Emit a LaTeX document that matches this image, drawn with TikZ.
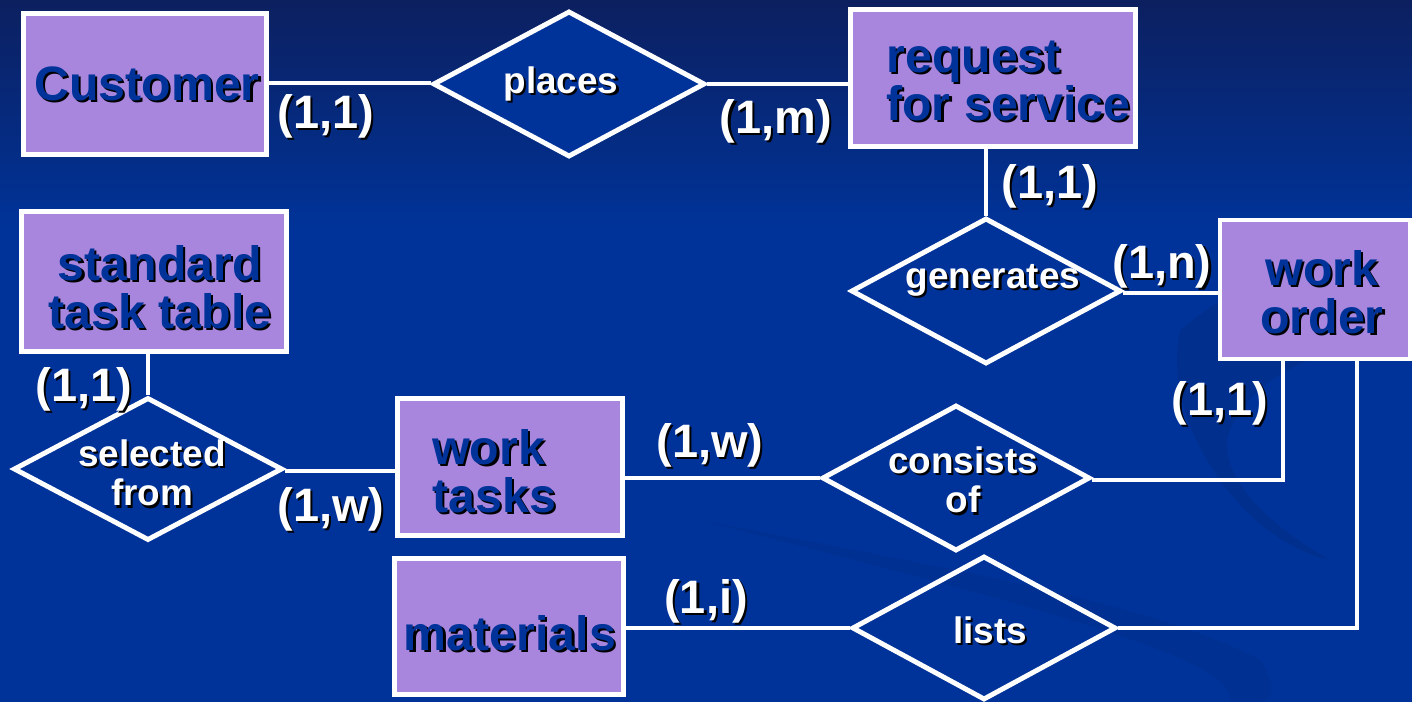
\documentclass[tikz,border=0pt]{standalone}
\usepackage{fontspec}
\setmainfont{Liberation Sans}
\usetikzlibrary{shapes.geometric,calc}
\definecolor{bgtop}{RGB}{12,32,96}
\definecolor{bgmain}{RGB}{0,51,153}
\definecolor{entfill}{RGB}{169,134,221}
\definecolor{enttext}{RGB}{0,51,153}
\newcommand\shd[1]{\rlap{\kern1.2pt\raisebox{-1.2pt}{\color{black}#1}}#1}
\begin{document}
\begin{tikzpicture}[x=0.02cm,y=-0.02cm,
  entity/.style={draw=white, line width=2.8pt, fill=entfill, rectangle, inner sep=0pt},
  rel/.style={draw=white, line width=2.8pt, diamond, inner sep=0pt},
  link/.style={draw=white, line width=2.6pt},
  etext/.style={font=\bfseries\fontsize{27.5}{27.5}\selectfont, text=enttext, inner sep=0pt, align=center},
  rtext/.style={font=\bfseries\fontsize{21}{22.5}\selectfont, text=white, inner sep=0pt, align=center},
  card/.style={font=\bfseries\fontsize{26.7}{30}\selectfont, text=white, inner sep=0pt}]
% background
\fill[bgmain] (0,0) rectangle (1412,702);
\shade[top color=bgtop, bottom color=bgmain] (0,0) rectangle (1412,230);
\fill[black, opacity=0.07] (1180,330) .. controls (1300,230) and (1412,250) .. (1412,300) -- (1412,360) .. controls (1330,330) and (1250,380) .. (1230,430) .. controls (1215,470) and (1260,520) .. (1330,560) .. controls (1240,540) and (1160,420) .. (1180,330) -- cycle;
\fill[black, opacity=0.05] (700,520) .. controls (900,560) and (1150,600) .. (1260,660) .. controls (1280,690) and (1270,702) .. (1260,702) -- (1230,702) .. controls (1240,660) and (1050,610) .. (700,520) -- cycle;
\useasboundingbox (0,0) rectangle (1412,702);

% entities
\node[entity, minimum width=243*0.02cm, minimum height=141*0.02cm] (cust) at (145,84) {};
\node[entity, minimum width=285*0.02cm, minimum height=137*0.02cm] (req) at (993,78) {};
\node[entity, minimum width=190*0.02cm, minimum height=139*0.02cm] (wo) at (1315,289.5) {};
\node[entity, minimum width=265*0.02cm, minimum height=140*0.02cm] (std) at (154,281.5) {};
\node[entity, minimum width=225*0.02cm, minimum height=137*0.02cm] (wt) at (510,467) {};
\node[entity, minimum width=229*0.02cm, minimum height=136*0.02cm] (mat) at (509,626.5) {};

% relationships
\node[rel, fill=bgmain, minimum width=272*0.02cm, minimum height=146*0.02cm] (places) at (569,84) {};
\node[rel, minimum width=270*0.02cm, minimum height=146*0.02cm] (gen) at (986,291) {};
\node[rel, minimum width=269*0.02cm, minimum height=143*0.02cm] (sel) at (148,469) {};
\node[rel, minimum width=268*0.02cm, minimum height=146*0.02cm] (cons) at (956,478) {};
\node[rel, minimum width=264*0.02cm, minimum height=144*0.02cm] (lists) at (984,628) {};

% connectors
\draw[link] ([yshift=1*0.02cm]places.west -| cust.east) -- ([yshift=1*0.02cm]places.west);
\draw[link] (places.east) -- (places.east -| req.west);
\draw[link] (gen.north |- req.south) -- (gen.north);
\draw[link] ([yshift=-2*0.02cm]gen.east) -- ([yshift=-2*0.02cm]gen.east -| wo.west);
\draw[link] (sel.north |- std.south) -- (sel.north);
\draw[link] ([yshift=-2*0.02cm]sel.east) -- ([yshift=-2*0.02cm]sel.east -| wt.west);
\draw[link] (cons.west -| wt.east) -- (cons.west);
\draw[link] ([xshift=-32*0.02cm]wo.south) |- ([yshift=-2*0.02cm]cons.east);
\draw[link] (lists.west -| mat.east) -- (lists.west);
\draw[link] ([xshift=42*0.02cm]wo.south) |- (lists.east);

% entity texts
\node[etext] (tcust) at (147,85) {\shd{Customer}};
\node[etext, align=left, anchor=west] (treq) at (886,82) {\shd{request}\\\shd{for service}};
\node[etext] (two) at (1322,293) {\shd{work}\\\shd{order}};
\node[etext] (tstd) at (160,288) {\shd{standard}\\\shd{task table}};
\node[etext, align=left, anchor=west] (twt) at (432,472) {\shd{work}\\\shd{tasks}};
\node[etext] (tmat) at (510,634) {\shd{materials}};

% relationship texts
\node[rtext] (tplaces) at (561,85) {\shd{places}};
\node[rtext] (tgen) at (993,281) {\shd{generates}};
\node[rtext] (tsel) at (152,474) {\shd{selected}\\\shd{from}};
\node[rtext] (tcons) at (963,481) {\shd{consists}\\\shd{of}};
\node[rtext] (tlists) at (990,631) {\shd{lists}};

% cardinalities
\node[card] (c1) at (326,117) {\shd{(1,1)}};
\node[card] (c2) at (776,122) {\shd{(1,m)}};
\node[card] (c3) at (1050,187) {\shd{(1,1)}};
\node[card] (c4) at (1162,267) {\shd{(1,n)}};
\node[card] (c5) at (84,390) {\shd{(1,1)}};
\node[card] (c6) at (331,510) {\shd{(1,w)}};
\node[card] (c7) at (710,446) {\shd{(1,w)}};
\node[card] (c8) at (1220,404) {\shd{(1,1)}};
\node[card] (c9) at (706,602) {\shd{(1,i)}};
\end{tikzpicture}
\end{document}
